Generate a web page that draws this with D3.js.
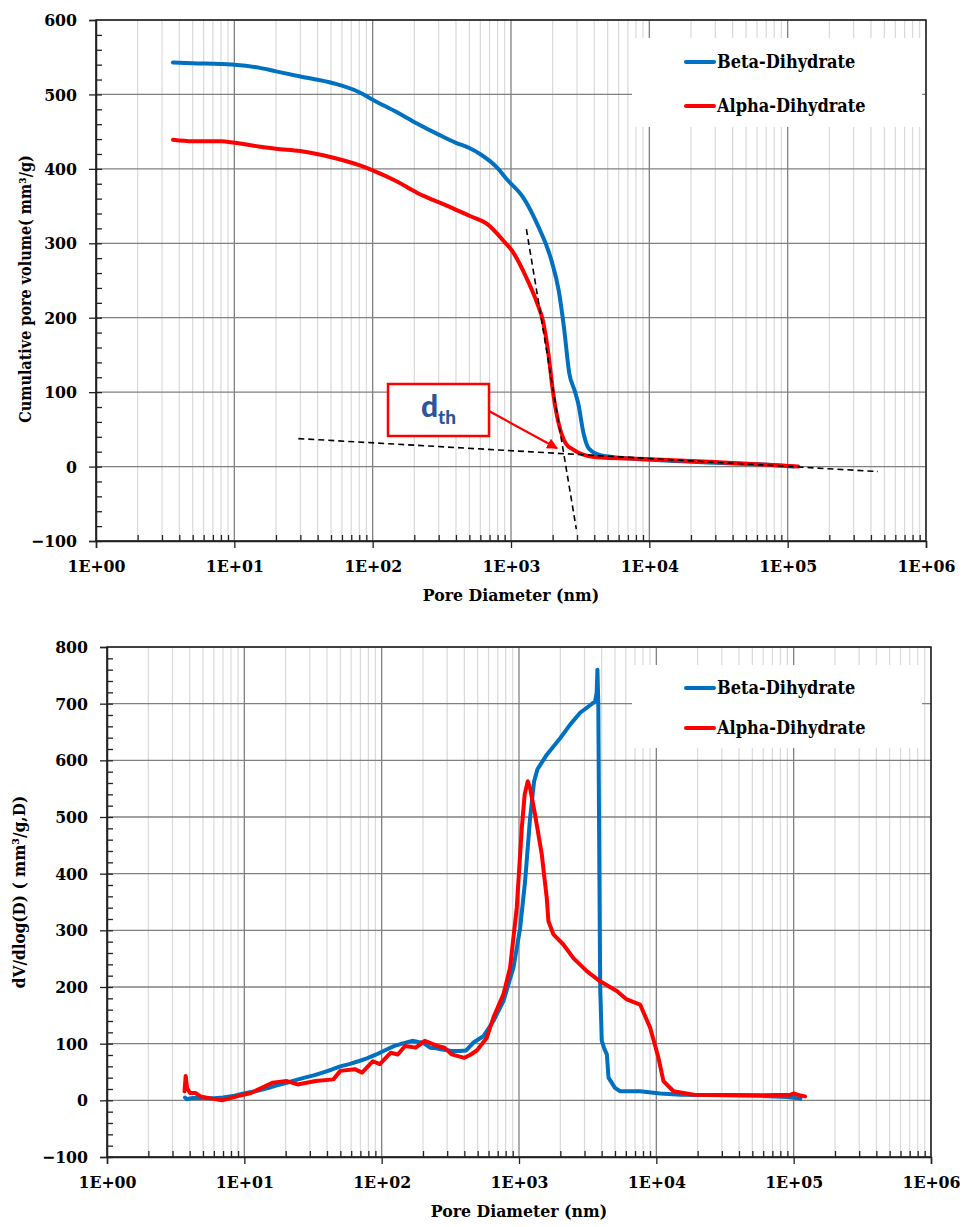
<!DOCTYPE html>
<html>
<head>
<meta charset="utf-8">
<script src="https://cdn.jsdelivr.net/npm/d3@7"></script>
<style>
  body { margin: 0; background: #fff; }
  svg text { font-family: "DejaVu Serif Condensed", "DejaVu Serif", serif; font-stretch: condensed; font-weight: bold; fill: #000; }
</style>
</head>
<body>
<svg id="chart" width="963" height="1227"></svg>
<script>
// ---- data (x = pore diameter in nm) ----
var seriesNames = ["Beta-Dihydrate", "Alpha-Dihydrate"];
var seriesColors = ["#0070C0", "#FF0000"];

var xTickValues = [1, 10, 100, 1000, 10000, 100000, 1000000];
var xTickLabels = ["1E+00", "1E+01", "1E+02", "1E+03", "1E+04", "1E+05", "1E+06"];
var yTicksTop = [-100, 0, 100, 200, 300, 400, 500, 600];
var yTicksBottom = [-100, 0, 100, 200, 300, 400, 500, 600, 700, 800];

// cumulative pore volume (mm3/g)
var betaCum = [[3.6,543],[5,542],[8,541],[10,540],[15,536],[20,531],[30,524],[52,515],[80,503],[100,493],
  [150,476],[209,461],[300,446],[400,435],[500,428],[597,420],[800,401],[933,386],[1220,362],[1545,326],[1960,277],
  [2210,237],[2415,187],[2640,125],[2885,102],[3060,85],[3350,44],[3660,24],[4500,15],[13100,8],[30000,5],
  [78000,2],[110000,0]];
var alphaCum = [[3.6,439],[5,437],[8,437],[10,435],[15,430],[20,427],[30,424],[52,415],[80,405],[100,398],
  [150,383],[209,368],[245,362],[350,350],[500,337],[671,326],[905,301],[1018,290],[1290,254],[1550,219],
  [1700,196],[1850,156],[2020,98],[2210,58],[2490,31],[2800,23],[3980,13],[10000,10],[30000,6],[60000,3],
  [119000,0]];
// tangent lines used to find d_th
var tangentFlat = [[29,37.6],[450000,-6.7]];
var tangentSteep = [[1292,319],[2966,-84]];
var dthPoint = [2300,22];

// dV/dlog(D) (mm3/g)
var betaDist = [[3.7,5],[3.8,2],[4.2,4],[5,4],[6.1,3.5],[7,5],[8.5,8],[9.9,12],[12,16],[15.1,22],[17,26],
  [20.4,31],[24,36],[27.5,40],[32,44],[37.2,49],[43,54],[50,60],[58,64],[67.8,69],[78,74],[91.5,81],
  [105,88],[124,96],[145,101],[167,105],[185,103],[200,102],[225,93],[250,92],[270,90],[324,87],[370,87],
  [412,88],[466,102],[550,113],[651,140],[770,175],[911,234],[1019,304],[1108,387],[1204,498],[1288,563],
  [1362,584],[1593,610],[1993,639],[2357,663],[2786,684],[3205,695],[3584,704],[3680,720],[3724,760],
  [3780,700],[3830,480],[3900,200],[4006,105],[4200,90],[4363,81],[4485,40],[5000,22],[5450,16],
  [7620,16],[10700,12],[15000,10],[30000,9],[57000,8],[90000,6],[112000,3]];
var alphaDist = [[3.67,16],[3.74,43],[3.83,22],[4.02,13],[4.4,13],[4.8,7],[5.77,3],[6.9,0],[8.8,7],
  [11.2,13],[13.4,22],[16,31],[20.4,34],[24.4,28],[33,34],[44.5,37],[50,52],[63.8,55],[72,49],[86.3,69],
  [97,64],[116.5,84],[131,81],[148,96],[177,93],[206,105],[254,96],[287,93],[324,81],[400,75],[440,80],
  [493,88],[582,110],[651,146],[770,187],[861,234],[963,340],[1048,481],[1100,540],[1158,563],[1204,551],
  [1309,504],[1465,434],[1593,357],[1638,316],[1780,293],[2104,275],[2490,251],[3117,228],[3893,210],
  [5155,193],[6095,178],[7620,169],[9016,128],[10360,75],[11270,34],[13340,16],[18700,10],[57000,9],
  [95000,10],[100000,12],[110000,9],[121000,7]];

var svg = d3.select("#chart");

function drawChart(cfg) {
  var x = d3.scaleLog().domain([1, 1e6]).range([cfg.left, cfg.right]);
  var y = d3.scaleLinear().domain([-100, cfg.ymax]).range([cfg.bottom, cfg.top]);
  var g = svg.append("g");

  // minor vertical grid
  var minors = [];
  for (var d = 0; d < 6; d++) {
    for (var k = 2; k < 10; k++) minors.push(k * Math.pow(10, d));
  }
  g.selectAll(".minor").data(minors).enter().append("line")
    .attr("x1", function(v) { return x(v); }).attr("x2", function(v) { return x(v); })
    .attr("y1", cfg.top).attr("y2", cfg.bottom)
    .attr("stroke", "#d9d9d9").attr("stroke-width", 1.2);
  // major grid
  g.selectAll(".vmaj").data(xTickValues).enter().append("line")
    .attr("x1", function(v) { return x(v); }).attr("x2", function(v) { return x(v); })
    .attr("y1", cfg.top).attr("y2", cfg.bottom)
    .attr("stroke", "#808080").attr("stroke-width", 1.3);
  g.selectAll(".hmaj").data(cfg.yTicks).enter().append("line")
    .attr("x1", cfg.left).attr("x2", cfg.right)
    .attr("y1", function(v) { return y(v); }).attr("y2", function(v) { return y(v); })
    .attr("stroke", "#808080").attr("stroke-width", 1.3);

  // frame
  g.append("rect").attr("x", cfg.left).attr("y", cfg.top)
    .attr("width", cfg.right - cfg.left).attr("height", cfg.bottom - cfg.top)
    .attr("fill", "none").attr("stroke", "#222").attr("stroke-width", 1.5);

  // axes (major ticks outside, minor ticks inside)
  var xAxis = d3.axisBottom(x).tickValues(xTickValues).tickSize(7).tickPadding(12)
    .tickFormat(function(v, i) { return xTickLabels[i]; });
  var xa = g.append("g").attr("transform", "translate(0," + cfg.bottom + ")").call(xAxis);
  var xMinor = d3.axisBottom(x).tickValues(minors).tickSize(-6).tickFormat("");
  g.append("g").attr("transform", "translate(0," + cfg.bottom + ")").call(xMinor)
    .select(".domain").remove();

  var yAxis = d3.axisLeft(y).tickValues(cfg.yTicks).tickSize(7).tickPadding(12);
  var ya = g.append("g").attr("transform", "translate(" + cfg.left + ",0)").call(yAxis);
  var yMinor = d3.axisLeft(y).tickValues(d3.range(-100, cfg.ymax, 20)).tickSize(-6).tickFormat("");
  g.append("g").attr("transform", "translate(" + cfg.left + ",0)").call(yMinor)
    .select(".domain").remove();

  g.selectAll(".domain").attr("stroke", "#222").attr("stroke-width", 1.5);
  g.selectAll(".tick line").attr("stroke", "#222").attr("stroke-width", 1.3);
  xa.selectAll("text").attr("font-size", 17.5).attr("font-family", null);
  ya.selectAll("text").attr("font-size", 17.5).attr("font-family", null);

  // axis titles
  g.append("text").attr("x", (cfg.left + cfg.right) / 2).attr("y", cfg.bottom + 60)
    .attr("text-anchor", "middle").attr("font-size", 17.5).text("Pore Diameter (nm)");
  g.append("text").attr("transform", "translate(" + cfg.yTitleX + "," + cfg.yTitleY + ") rotate(-90)")
    .attr("text-anchor", "middle").attr("dy", "0.35em").attr("font-size", cfg.yTitleSize).text(cfg.yTitle);

  var line = d3.line().x(function(p) { return x(p[0]); }).y(function(p) { return y(p[1]); })
    .curve(cfg.smooth ? d3.curveMonotoneX : d3.curveLinear);
  cfg.series.forEach(function(s, i) {
    g.append("path").datum(s).attr("d", line)
      .attr("fill", "none").attr("stroke", seriesColors[i])
      .attr("stroke-width", 4).attr("stroke-linejoin", "round").attr("stroke-linecap", "round");
  });
  var straight = d3.line().x(function(p) { return x(p[0]); }).y(function(p) { return y(p[1]); });
  (cfg.dashed || []).forEach(function(s) {
    g.append("path").datum(s).attr("d", straight)
      .attr("fill", "none").attr("stroke", "#000").attr("stroke-width", 1.6)
      .attr("stroke-dasharray", "6,4");
  });

  // legend
  var lg = g.append("g");
  lg.append("rect").attr("x", cfg.legend[0]).attr("y", cfg.legend[1])
    .attr("width", cfg.legend[2]).attr("height", cfg.legend[3]).attr("fill", "#fff");
  seriesNames.forEach(function(name, i) {
    var ly = cfg.legend[1] + cfg.legendRow0 + i * cfg.legendGap;
    lg.append("line").attr("x1", cfg.legend[0] + 54).attr("x2", cfg.legend[0] + 82)
      .attr("y1", ly).attr("y2", ly).attr("stroke", seriesColors[i])
      .attr("stroke-width", 4).attr("stroke-linecap", "round");
    lg.append("text").attr("x", cfg.legend[0] + 85).attr("y", ly).attr("dy", "0.35em")
      .attr("font-size", 18).text(name);
  });
  return { x: x, y: y, g: g };
}

var topChart = drawChart({
  left: 96, right: 926, top: 20, bottom: 541, ymax: 600, smooth: true,
  yTicks: yTicksTop, yTitle: "Cumulative pore volume( mm\u00B3/g)", yTitleX: 25, yTitleY: 289, yTitleSize: 16,
  series: [betaCum, alphaCum], dashed: [tangentFlat, tangentSteep],
  legend: [632, 38, 290, 89], legendRow0: 24, legendGap: 44
});

drawChart({
  left: 107, right: 931, top: 647, bottom: 1157, ymax: 800, smooth: false,
  yTicks: yTicksBottom, yTitle: "dV/dlog(D) ( mm\u00B3/g,D)", yTitleX: 19, yTitleY: 892, yTitleSize: 17,
  series: [betaDist, alphaDist],
  legend: [632, 665, 290, 83], legendRow0: 23, legendGap: 40
});

// d_th annotation
svg.append("defs").append("marker").attr("id", "arrow")
  .attr("viewBox", "0 0 10 10").attr("refX", 9).attr("refY", 5)
  .attr("markerWidth", 5).attr("markerHeight", 5).attr("orient", "auto")
  .append("path").attr("d", "M0,0 L10,5 L0,10 Z").attr("fill", "#FF0000");
var box = { x: 388, y: 384, w: 101, h: 52 };
topChart.g.append("rect").attr("x", box.x).attr("y", box.y).attr("width", box.w).attr("height", box.h)
  .attr("fill", "#fff").attr("stroke", "#FF0000").attr("stroke-width", 2.5);
var dt = topChart.g.append("text").attr("x", box.x + box.w / 2).attr("y", box.y + 33)
  .attr("text-anchor", "middle").style("font-family", "Lato, 'Open Sans', sans-serif")
  .style("fill", "#2F5597").style("font-weight", 900).attr("font-size", 30);
dt.append("tspan").text("d");
dt.append("tspan").attr("dy", 7).attr("font-size", 19).text("th");
topChart.g.append("line").attr("x1", box.x + box.w).attr("y1", box.y + 27)
  .attr("x2", topChart.x(dthPoint[0]) - 4).attr("y2", topChart.y(dthPoint[1]) - 2)
  .attr("stroke", "#FF0000").attr("stroke-width", 2.2).attr("marker-end", "url(#arrow)");
</script>
</body>
</html>
